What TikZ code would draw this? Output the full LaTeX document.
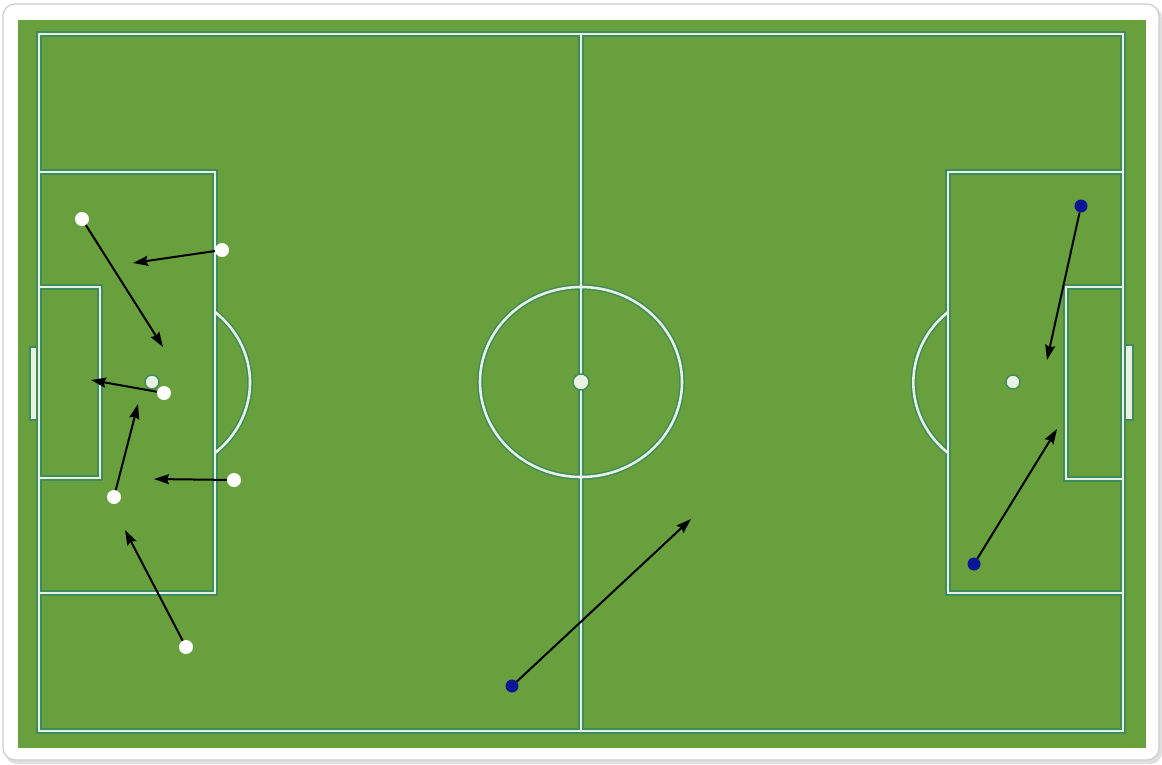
\documentclass[tikz,border=0pt]{standalone}
\usetikzlibrary{arrows.meta}

\definecolor{turf}{RGB}{103,160,60}
\definecolor{chalk}{RGB}{232,241,226}
\definecolor{chalkedge}{RGB}{62,140,92}
\definecolor{awayblue}{RGB}{10,22,150}

% all the painted lines of the pitch, drawn twice (edge, then chalk)
\newcommand{\pitchmarks}{
    \draw[pline] (39,34) rectangle (1123,731);
    \draw[pline] (581,34) -- (581,731);
    \draw[pline] (581,382) ellipse [x radius=101, y radius=95];
    % left end
    \draw[pline] (39,172) rectangle (215,593);
    \draw[pline] (39,287) rectangle (100,478);
    \draw[pline] (215,312) arc [start angle=-50, end angle=50, x radius=98, y radius=92];
    % right end
    \draw[pline] (948,172) rectangle (1123,593);
    \draw[pline] (1066,287) rectangle (1123,479);
    \draw[pline] (948,312) arc [start angle=230, end angle=130, x radius=97, y radius=92];
}

\tikzset{
    home/.style={circle, fill=white, inner sep=0pt, minimum size=14pt},
    away/.style={circle, fill=awayblue, inner sep=0pt, minimum size=13pt},
    run/.style={line width=2pt, -{Stealth[length=15pt, width=10pt, inset=2pt]}},
    spot/.style={fill=chalk, draw=chalkedge, line width=1.4pt}
}

\begin{document}
\begin{tikzpicture}[x=1pt, y=-1pt]
    \useasboundingbox (0,0) rectangle (1162,764);

    % frame and grass
    \fill[gray!25, rounded corners=12pt] (5,6) rectangle (1162,764);
    \filldraw[fill=white, draw=gray!40, line width=1.2pt, rounded corners=12pt] (3,4) rectangle (1159,760);
    \fill[turf] (18,20) rectangle (1146,748);

    % goals
    \filldraw[spot] (30,347) rectangle (39,420);
    \filldraw[spot] (1123,345) rectangle (1133,420);

    \begin{scope}[pline/.style={draw=chalkedge, line width=5.6pt}]
        \pitchmarks
    \end{scope}
    \begin{scope}[pline/.style={draw=chalk, line width=2.6pt}]
        \pitchmarks
    \end{scope}

    \filldraw[spot] (581,382) circle (8pt);
    \filldraw[spot] (152,382) circle (7pt);
    \filldraw[spot] (1013,382) circle (7pt);

    % white side: position / where the arrow goes
    \foreach \n / \x / \y / \tx / \ty in {1/82/219/163/347, 2/222/250/133/263, 3/164/393/91/380,
                                          4/114/497/138/404, 5/234/480/154/479, 6/186/647/125/530}
    {
        \node[home] (h\n) at (\x,\y) {};
        \coordinate (ht\n) at (\tx,\ty);
        \draw[run] (h\n) -- (ht\n);
    }

    % blue side
    \foreach \n / \x / \y / \tx / \ty in {1/1081/206/1047/360, 2/974/564/1057/429, 3/512/686/691/519}
    {
        \node[away] (a\n) at (\x,\y) {};
        \coordinate (at\n) at (\tx,\ty);
        \draw[run] (a\n) -- (at\n);
    }

\end{tikzpicture}
\end{document}
